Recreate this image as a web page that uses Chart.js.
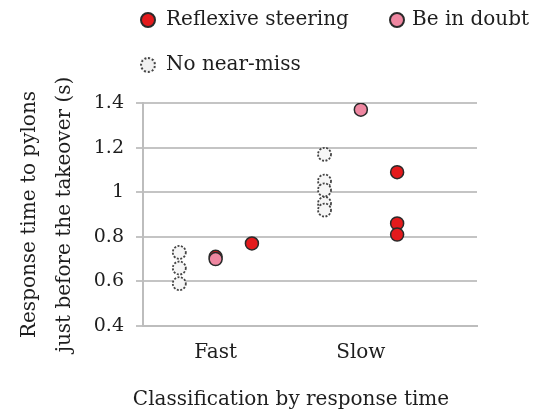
<!DOCTYPE html>
<html>
<head>
<meta charset="utf-8">
<script src="https://cdn.jsdelivr.net/npm/chart.js@4"></script>
<style>
  body { margin: 0; background: #fff; }
  #wrap { position: relative; width: 542px; height: 412px; font-family: "DejaVu Serif", serif; color: #1e1e1e; }
  canvas { position: absolute; left: 0; top: 0; }
  .leg { position: absolute; display: flex; align-items: center; font-size: 20px; white-space: nowrap; }
  .mk { width: 16px; height: 16px; border-radius: 50%; box-sizing: border-box; position: absolute; }
  #xtitle { position: absolute; top: 386px; left: 0; width: 582px; text-align: center; font-size: 20px; }
</style>
</head>
<body>
<div id="wrap">
  <canvas id="chart" width="542" height="412"></canvas>
  <span class="mk" style="left:140px; top:12px; background:#e41a1c; border:2px solid #2a2a2a;"></span>
  <div class="leg" style="left:166px; top:6px;">Reflexive steering</div>
  <span class="mk" style="left:389px; top:12px; background:#ef87a1; border:2px solid #2a2a2a;"></span>
  <div class="leg" style="left:412px; top:6px;">Be in doubt</div>
  <span class="mk" style="left:140px; top:57px; background:#f0f0f0; border:2px dotted #444;"></span>
  <div class="leg" style="left:166px; top:51px;">No near-miss</div>
  <div id="xtitle">Classification by response time</div>
</div>
<script>
var categories = ['Fast', 'Slow'];
// values per category, one small array each
var noNearMiss = [[0.73, 0.66, 0.59], [1.17, 1.05, 1.01, 0.95, 0.92]];
var beInDoubt = [[0.70], [1.37]];
var reflexive = [[0.71, 0.77], [1.09, 0.86, 0.81]];
var yTicks = [0.4, 0.6, 0.8, 1, 1.2, 1.4];

function toPoints(groups, shift) {
    var pts = [];
    groups.forEach(function (vals, i) {
        vals.forEach(function (v) { pts.push({ x: i + 1 + shift, y: v }); });
    });
    return pts;
}

// reflexive: first fast point sits behind the "be in doubt" marker
var reflexivePts = toPoints(reflexive, 0.25);
reflexivePts[0].x = 1;

var dotted = {
    id: 'dotted',
    beforeDatasetDraw: function (chart, args) {
        if (args.index === 2) chart.ctx.setLineDash([2, 1.5]);
    },
    afterDatasetDraw: function (chart, args) {
        if (args.index === 2) chart.ctx.setLineDash([]);
    }
};

var ctx = document.getElementById('chart').getContext('2d');
var chart = new Chart(ctx, {
    type: 'scatter',
    data: {
        datasets: [{
            label: 'Be in doubt',
            data: toPoints(beInDoubt, 0),
            backgroundColor: '#ef87a1',
            borderColor: '#2a2a2a'
        },
        {
            label: 'Reflexive steering',
            data: reflexivePts,
            backgroundColor: '#e41a1c',
            borderColor: '#2a2a2a'
        },
        {
            label: 'No near-miss',
            data: toPoints(noNearMiss, -0.25),
            backgroundColor: '#f6f6f6',
            borderColor: '#444',
            borderWidth: 1.8
        }]
    },
    options: {
        responsive: false,
        animation: false,
        layout: { padding: { top: 103, right: 65, left: 0, bottom: 0 } },
        elements: { point: { radius: 6.5, borderWidth: 1.5, hoverRadius: 6.5 } },
        plugins: { legend: { display: false }, tooltip: { enabled: false } },
        scales: {
            x: {
                type: 'linear',
                min: 0.5,
                max: 2.8,
                afterBuildTicks: function (s) {
                    s.ticks = categories.map(function (c, i) { return { value: i + 1 }; });
                },
                afterFit: function (s) { s.height = 86; },
                grid: { display: false, drawTicks: false },
                border: { color: '#bdbdbd', width: 2 },
                ticks: {
                    padding: 15,
                    color: '#1e1e1e',
                    font: { family: 'DejaVu Serif', size: 20 },
                    callback: function (v) { return categories[v - 1] || ''; }
                }
            },
            y: {
                min: 0.4,
                max: 1.4,
                afterBuildTicks: function (s) {
                    s.ticks = yTicks.map(function (v) { return { value: v }; });
                },
                afterFit: function (s) { s.width = 143; },
                grid: { color: '#c4c4c4', lineWidth: 2, tickLength: 7 },
                border: { color: '#bdbdbd', width: 2 },
                ticks: {
                    padding: 12,
                    color: '#1e1e1e',
                    font: { family: 'DejaVu Serif', size: 19 },
                    callback: function (v) { return String(v); }
                },
                title: {
                    display: true,
                    text: ['Response time to pylons', 'just before the takeover (s)'],
                    color: '#1e1e1e',
                    font: { family: 'DejaVu Serif', size: 20, lineHeight: 1.75 },
                    padding: { top: 12, bottom: 0 }
                }
            }
        }
    },
    plugins: [dotted]
});
</script>
</body>
</html>
